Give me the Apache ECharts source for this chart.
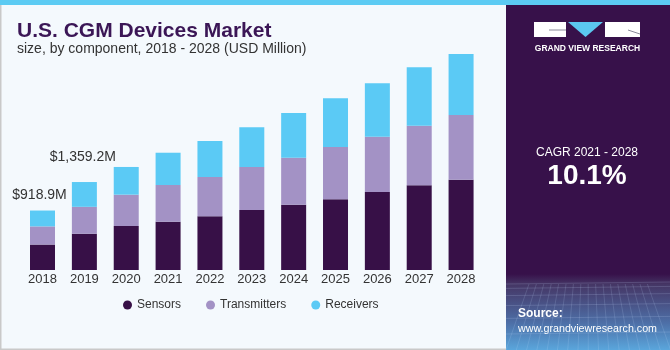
<!DOCTYPE html>
<html>
<head>
<meta charset="utf-8">
<script src="https://cdn.jsdelivr.net/npm/echarts@6/dist/echarts.min.js"></script>
<style>
  html, body { margin: 0; padding: 0; background: #f4f9fd; }
  #chart { width: 670px; height: 350px; }
</style>
</head>
<body>
<div id="chart"></div>
<script>
const years = ['2018', '2019', '2020', '2021', '2022', '2023', '2024', '2025', '2026', '2027', '2028']
const sensors = [393.2, 560, 680, 746, 830, 927, 1009, 1092, 1205, 1309, 1395]
const transmitters = [280.5, 416, 484, 567, 607, 664, 726, 808, 854, 921, 1000]
const receivers = [245.2, 383.2, 428, 499, 556, 613, 691, 752, 825, 902, 942]
const totalLabels = ['$918.9M', '$1,359.2M']

const font = 'Liberation Sans, Arial, sans-serif'
const chart = echarts.init(document.getElementById('chart'))

// labels only over the first two bars
const labelPos = [
  { distance: 8, offset: [-3, 0] },
  { distance: 18, offset: [-1.5, 0] },
]
const receiverData = receivers.map((v, i) => {
  if (i >= totalLabels.length) return v
  return {
    value: v,
    label: {
      show: true,
      position: 'top',
      distance: labelPos[i].distance,
      offset: labelPos[i].offset,
      formatter: totalLabels[i],
      color: '#333',
      fontSize: 14,
      fontFamily: font,
    },
  }
})

// faint mesh in the bottom of the side panel
const mesh = []
for (let k = 0; k < 7; k++) {
  const y = 284 + k * k * 1.4 + k * 3
  mesh.push({ type: 'polyline', silent: true, shape: { points: [[506, y], [670, y - 2]] },
    style: { stroke: 'rgba(200,220,255,0.22)', lineWidth: 0.8 } })
}
for (let k = 0; k <= 16; k++) {
  const xt = 529 + k * 7.4
  const xb = 588 + (xt - 588) * 1.39
  mesh.push({ type: 'polyline', silent: true, shape: { points: [[xt, 284], [xb, 350]] },
    style: { stroke: 'rgba(200,220,255,0.2)', lineWidth: 0.8 } })
}

chart.setOption({
  backgroundColor: '#f4f9fd',
  animation: false,
  textStyle: { fontFamily: font },
  grid: { left: 21.6, right: 188, top: 37, bottom: 80 },
  legend: {
    top: 294,
    left: 118,
    itemGap: 25,
    itemWidth: 9,
    itemHeight: 9,
    icon: 'circle',
    textStyle: { color: '#333', fontSize: 12, fontFamily: font },
    data: ['Sensors', 'Transmitters', 'Receivers'],
  },
  xAxis: {
    type: 'category',
    data: years,
    axisLine: { show: false },
    axisTick: { show: false },
    axisLabel: { color: '#333', fontSize: 13, margin: 3, fontFamily: font },
  },
  yAxis: {
    type: 'value',
    min: 0,
    max: 3600,
    show: false,
    splitLine: { show: false },
  },
  series: [
    {
      name: 'Sensors',
      type: 'bar',
      stack: 'total',
      barWidth: 25,
      itemStyle: { color: '#371047' },
      data: sensors,
    },
    {
      name: 'Transmitters',
      type: 'bar',
      stack: 'total',
      itemStyle: { color: '#a392c5' },
      data: transmitters,
    },
    {
      name: 'Receivers',
      type: 'bar',
      stack: 'total',
      itemStyle: { color: '#5bcaf5' },
      data: receiverData,
    },
  ],
  graphic: [
    // frame
    { type: 'rect', shape: { x: 0, y: 0, width: 670, height: 5 }, style: { fill: '#5ccbf3' } },
    { type: 'rect', shape: { x: 0, y: 5, width: 1.5, height: 345 }, style: { fill: '#c9c9c9' } },
    { type: 'rect', shape: { x: 0, y: 348.5, width: 670, height: 1.5 }, style: { fill: '#c9c9c9' } },
    // title
    {
      type: 'text', left: 17, top: 21,
      style: { text: 'U.S. CGM Devices Market', fill: '#3b1656', fontSize: 21, fontWeight: 'bold', fontFamily: font },
    },
    {
      type: 'text', left: 17, top: 42,
      style: { text: 'size, by component, 2018 - 2028 (USD Million)', fill: '#333', fontSize: 14, fontFamily: font },
    },
    // side panel
    {
      type: 'rect', shape: { x: 506, y: 5, width: 164, height: 345 },
      style: {
        fill: new echarts.graphic.LinearGradient(0, 0, 0, 1, [
          { offset: 0, color: '#37114a' },
          { offset: 0.78, color: '#37114a' },
          { offset: 0.81, color: '#453665' },
          { offset: 0.92, color: '#4d6ea6' },
          { offset: 1, color: '#5aa6dc' },
        ]),
      },
    },
    ...mesh,
    // logo
    { type: 'rect', shape: { x: 534, y: 22, width: 32, height: 15 }, style: { fill: '#fff' } },
    { type: 'polyline', shape: { points: [[549, 30], [566, 30]] }, style: { stroke: '#8a8a9a', lineWidth: 1 } },
    { type: 'polygon', shape: { points: [[568, 22], [603, 22], [585.5, 37]] }, style: { fill: '#5bc8f0' } },
    { type: 'rect', shape: { x: 605, y: 22, width: 35, height: 15 }, style: { fill: '#fff' } },
    { type: 'polyline', shape: { points: [[628, 30], [640, 34]] }, style: { stroke: '#8a8a9a', lineWidth: 1 } },
    {
      type: 'text', x: 587.5, y: 49,
      style: { text: 'GRAND VIEW RESEARCH', fill: '#fff', fontSize: 8.5, fontWeight: 'bold', align: 'center', verticalAlign: 'middle', fontFamily: font },
    },
    // CAGR
    {
      type: 'text', x: 587, y: 153,
      style: { text: 'CAGR 2021 - 2028', fill: '#fff', fontSize: 12, align: 'center', verticalAlign: 'middle', fontFamily: font },
    },
    {
      type: 'text', x: 587, y: 176,
      style: { text: '10.1%', fill: '#fff', fontSize: 28, fontWeight: 'bold', align: 'center', verticalAlign: 'middle', fontFamily: font },
    },
    // source
    {
      type: 'text', left: 518, top: 308,
      style: { text: 'Source:', fill: '#fff', fontSize: 12, fontWeight: 'bold', fontFamily: font },
    },
    {
      type: 'text', left: 518, top: 324,
      style: { text: 'www.grandviewresearch.com', fill: '#fff', fontSize: 10.7, fontFamily: font },
    },
  ],
})
</script>
</body>
</html>
